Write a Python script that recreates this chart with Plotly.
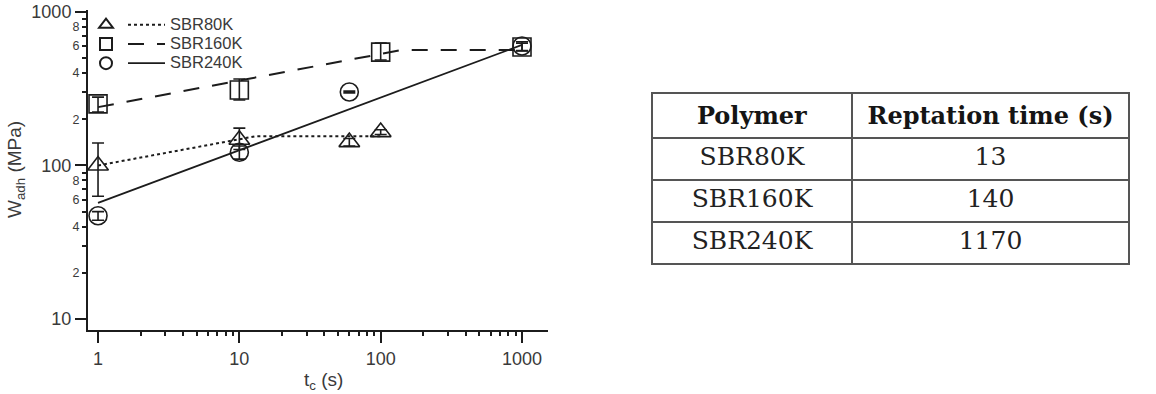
import plotly.graph_objects as go

# ---------------- data ----------------
t_80 = [1, 10, 60, 100]
w_80 = [100, 147, 142, 165]
w_80_hi = [40, 28, 8, 6]
w_80_lo = [37, 20, 8, 6]

t_160 = [1, 10, 100, 1000]
w_160 = [252, 310, 548, 592]
w_160_hi = [27, 56, 80, 35]
w_160_lo = [29, 43, 61, 35]

t_240 = [1, 10, 60, 1000]
w_240 = [47, 122, 301, 600]
w_240_hi = [3, 12, 4, 40]
w_240_lo = [3, 12, 4, 40]

# model (fit) lines
fit_80_t = [1, 13, 100]
fit_80_w = [100, 155, 155]
fit_160_t = [1, 140, 1000]
fit_160_w = [240, 565, 565]
fit_240_t = [1, 1000]
fit_240_w = [57, 610]

series_names = ["SBR80K", "SBR160K", "SBR240K"]

# table
polymers = ["SBR80K", "SBR160K", "SBR240K"]
reptation_times = ["13", "140", "1170"]
table_header = ["<b>Polymer</b>", "<b>Reptation time (s)</b>"]

# axis ticks
x_major = [1, 10, 100, 1000]
x_major_labels = ["1", "10", "100", "1000"]
x_minor = [m * d for d in (1, 10, 100) for m in range(2, 10)]
y_major = [10, 100, 1000]
y_major_labels = ["10", "100", "1000"]
y_minor = [m * d for d in (10, 100) for m in range(2, 10)]
y_minor_labels = ["2", "", "4", "", "6", "", "8", ""] * 2

# ---------------- layout geometry ----------------
W, H = 1156, 394
INK = "#1c1c1c"
TXT = "#3a3a3a"
SANS = "Liberation Sans, Arial, Helvetica, sans-serif"
SERIF = "DejaVu Serif, serif"
XR = [-0.071, 3.184]
YR = [0.928, 3.013]

fig = go.Figure()

line_styles = [dict(dash="dot", width=2), dict(dash="16px,13px", width=2), dict(dash="solid", width=1.8)]
fits = [(fit_80_t, fit_80_w), (fit_160_t, fit_160_w), (fit_240_t, fit_240_w)]
for name, (ft, fw), ls in zip(series_names, fits, line_styles):
    fig.add_trace(go.Scatter(
        x=ft, y=fw, mode="lines", legend="legend2",
        name="<span style='font-size:16.5px'>%s</span>" % name,
        line=dict(color=INK, **ls), hoverinfo="skip"))

symbols = ["triangle-up-open", "square-open", "circle-open"]
data = [(t_80, w_80, w_80_hi, w_80_lo), (t_160, w_160, w_160_hi, w_160_lo),
        (t_240, w_240, w_240_hi, w_240_lo)]
for name, (t, w, hi, lo), sym in zip(series_names, data, symbols):
    fig.add_trace(go.Scatter(
        x=t, y=w, mode="markers", name=" ", legend="legend",
        marker=dict(symbol=sym, size=18, color=INK, line=dict(width=1.6, color=INK)),
        error_y=dict(type="data", array=hi, arrayminus=lo, color=INK, thickness=1.6, width=6),
        hovertext=name))

fig.add_trace(go.Table(
    domain=dict(x=[652 / W, 1129 / W], y=[1 - 272 / H, 1 - 93 / H]),
    columnwidth=[200, 277],
    header=dict(values=table_header, height=41, align="center",
                font=dict(family=SERIF, size=24, color="#151515"),
                fill_color="white", line=dict(color="#555", width=1.5)),
    cells=dict(values=[polymers, reptation_times], height=42, align="center",
               font=dict(family=SERIF, size=25, color="#222"),
               fill_color="white", line=dict(color="#555", width=1.5)),
))

# invisible helper trace so the overlay axes (minor ticks / minor labels) get drawn
fig.add_trace(go.Scatter(x=[1], y=[100], xaxis="x2", yaxis="y2", mode="markers",
                         marker=dict(opacity=0), showlegend=False, hoverinfo="skip"))

axis_common = dict(showgrid=False, zeroline=False, automargin=False)

fig.update_layout(
    width=W, height=H,
    margin=dict(l=0, r=0, t=0, b=0),
    paper_bgcolor="white", plot_bgcolor="white",
    font=dict(family=SANS, color=TXT),
    showlegend=True,
    xaxis=dict(type="log", domain=[88 / W, 548 / W], range=XR,
               tickmode="array", tickvals=x_major, ticktext=x_major_labels,
               ticks="outside", ticklen=11, tickwidth=1.5, tickcolor=INK,
               tickfont=dict(size=18, color=TXT),
               showline=True, linewidth=2, linecolor=INK, anchor="y",
               **axis_common),
    xaxis2=dict(type="log", overlaying="x", anchor="y", side="bottom", range=XR,
                tickmode="array", tickvals=x_minor, ticktext=[""] * len(x_minor),
                ticks="outside", ticklen=5, tickwidth=1.5, tickcolor=INK,
                showline=False, **axis_common),
    yaxis=dict(type="log", domain=[1 - 330 / H, 1 - 10 / H], range=YR,
               tickmode="array", tickvals=y_major, ticktext=y_major_labels,
               ticks="outside", ticklen=11, tickwidth=1.5, tickcolor=INK,
               tickfont=dict(size=18, color=TXT),
               showline=True, linewidth=2, linecolor=INK, anchor="x",
               **axis_common),
    yaxis2=dict(type="log", overlaying="y", anchor="x", side="left", range=YR,
                tickmode="array", tickvals=y_minor, ticktext=y_minor_labels,
                ticks="outside", ticklen=5, tickwidth=1.5, tickcolor=INK,
                tickfont=dict(size=12.5, color=TXT), showline=False,
                **axis_common),
    legend=dict(x=86 / W, y=1 - 10 / H, xanchor="left", yanchor="top",
                bgcolor="rgba(0,0,0,0)", font=dict(size=12.5, color=TXT),
                itemsizing="constant", tracegroupgap=0, itemclick=False),
    legend2=dict(x=123 / W, y=1 - 10 / H, xanchor="left", yanchor="top",
                 bgcolor="rgba(0,0,0,0)", font=dict(size=12.5, color=TXT),
                 itemwidth=37, tracegroupgap=0, itemclick=False),
    annotations=[
        dict(text="W<sub>adh</sub> (MPa)", x=16 / W, y=1 - 170 / H, xref="paper", yref="paper",
             xanchor="center", yanchor="middle",
             textangle=-90, showarrow=False, font=dict(size=19, color=TXT)),
        dict(text="t<sub>c</sub> (s)", x=323 / W, y=1 - 381 / H, xref="paper", yref="paper",
             xanchor="center", yanchor="middle",
             showarrow=False, font=dict(size=19, color=TXT)),
    ],
)

fig.write_html("out.html")
